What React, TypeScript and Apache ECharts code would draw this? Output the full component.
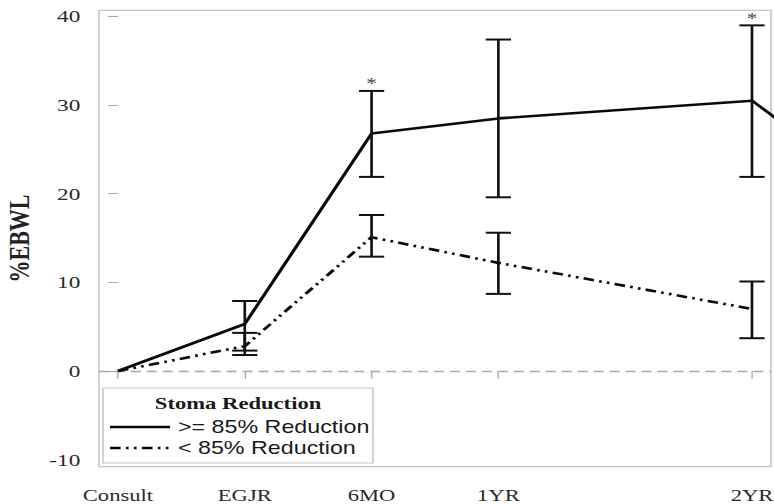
import { useEffect, useRef } from "react";
import * as echarts from "echarts";

const categories = ["Consult", "EGJR", "6MO", "1YR", "2YR"];
const categoryPositions = [0, 1, 2, 3, 5];
const yTicks = [-10, 0, 10, 20, 30, 40];

const legendTitle = "Stoma Reduction";
const seriesNames = [">= 85% Reduction", "< 85% Reduction"];

const highMeans = [0, 5.3, 26.8, 28.5, 30.5];
const highLower = [null, 2.3, 21.9, 19.6, 21.9];
const highUpper = [null, 7.9, 31.6, 37.4, 39.0];
const highSignificant = [0, 0, 1, 0, 1];
// the solid line continues to a later visit beyond the right edge (clipped)
const highTrailPosition = 6;
const highTrailValue = 20;

const lowMeans = [0, 2.8, 15.1, 12.2, 7.0];
const lowLower = [null, 1.8, 12.9, 8.7, 3.7];
const lowUpper = [null, 4.3, 17.6, 15.6, 10.1];

const STRETCH = 1.33;
const INNER_W = 582;
const H = 504;
const SERIF = "'Liberation Serif', 'Times New Roman', serif";
const SANS = "'Liberation Sans', Arial, sans-serif";
const DASH_DOT_DOT = [8, 4, 2, 4, 2, 4];

function errorData(lower: (number | null)[], upper: (number | null)[], sig?: number[]) {
  const out: number[][] = [];
  categoryPositions.forEach((p, i) => {
    const lo = lower[i];
    const hi = upper[i];
    if (lo == null || hi == null) return;
    out.push([p, lo, hi, sig ? sig[i] : 0]);
  });
  return out;
}

const renderError = (_params: any, api: any) => {
  const x = api.value(0);
  const lo = api.coord([x, api.value(1)]);
  const hi = api.coord([x, api.value(2)]);
  const sig = api.value(3);
  const w = 9.5;
  const style = { stroke: "#111", lineWidth: 2, fill: "none" };
  const children: any[] = [
    { type: "line", shape: { x1: hi[0], y1: hi[1], x2: lo[0], y2: lo[1] }, style },
    { type: "line", shape: { x1: hi[0] - w, y1: hi[1], x2: hi[0] + w, y2: hi[1] }, style },
    { type: "line", shape: { x1: lo[0] - w, y1: lo[1], x2: lo[0] + w, y2: lo[1] }, style },
  ];
  if (sig) {
    children.push({
      type: "text",
      x: hi[0],
      y: hi[1] - 7,
      style: {
        text: "*",
        fill: "#444",
        font: `16px ${SERIF}`,
        align: "center",
        verticalAlign: "middle",
      },
    });
  }
  return { type: "group", children };
};

export default function App() {
  const ref = useRef<HTMLDivElement>(null);

  useEffect(() => {
    if (!ref.current) return;
    const chart = echarts.init(ref.current, undefined, { renderer: "svg" });

    const highLine = categoryPositions.map((p, i) => [p, highMeans[i]]);
    highLine.push([highTrailPosition, highTrailValue]);
    const lowLine = categoryPositions.map((p, i) => [p, lowMeans[i]]);

    const legendLineX1 = 82.7;
    const legendLineX2 = 127.8;
    const legendTextX = 133.8;
    const legendRows = [427, 448];

    chart.setOption({
      animation: false,
      backgroundColor: "#fff",
      grid: {
        left: 74.4,
        right: 2.3,
        top: 10.3,
        bottom: 37.3,
        show: true,
        borderColor: "#c6c6c6",
        borderWidth: 1.2,
        backgroundColor: "transparent",
        containLabel: false,
        outerBoundsMode: "none",
      },
      xAxis: {
        type: "value",
        min: -0.15,
        max: 5.15,
        axisLine: { show: false },
        splitLine: { show: false },
        axisTick: {
          show: true,
          inside: false,
          length: 8,
          lineStyle: { color: "#a9a9a9", width: 1 },
          customValues: categoryPositions,
        },
        axisLabel: {
          customValues: categoryPositions,
          margin: 20,
          fontFamily: SERIF,
          fontSize: 17,
          color: "#2a2a2a",
          formatter: (v: number) => {
            const i = categoryPositions.indexOf(v);
            return i >= 0 ? categories[i] : "";
          },
        },
      },
      yAxis: {
        type: "value",
        min: -10.8,
        max: 40.7,
        name: "%EBWL",
        nameLocation: "middle",
        nameGap: 48.5,
        nameTextStyle: {
          fontFamily: SERIF,
          fontWeight: "bold",
          fontSize: 22,
          color: "#222",
        },
        axisLine: { show: false },
        splitLine: { show: false },
        axisTick: {
          show: true,
          length: 7.5,
          lineStyle: { color: "#a9a9a9", width: 1 },
          customValues: yTicks,
        },
        axisLabel: {
          customValues: yTicks,
          margin: 14,
          fontFamily: SERIF,
          fontSize: 17.5,
          color: "#2a2a2a",
        },
      },
      graphic: [
        {
          type: "rect",
          z: 3,
          shape: { x: 77.4, y: 388, width: 203, height: 75 },
          style: { fill: "#fff", stroke: "#c8c8c8", lineWidth: 1.2 },
        },
        {
          type: "text",
          z: 5,
          x: 179,
          y: 403,
          style: {
            text: legendTitle,
            font: `bold 17px ${SERIF}`,
            fill: "#1a1a1a",
            align: "center",
            verticalAlign: "middle",
          },
        },
        {
          type: "line",
          z: 5,
          shape: { x1: legendLineX1, y1: legendRows[0], x2: legendLineX2, y2: legendRows[0] },
          style: { stroke: "#0a0a0a", lineWidth: 2.6 },
        },
        {
          type: "text",
          z: 5,
          x: legendTextX,
          y: legendRows[0],
          style: {
            text: seriesNames[0],
            font: `17.5px ${SANS}`,
            fill: "#1a1a1a",
            align: "left",
            verticalAlign: "middle",
          },
        },
        {
          type: "line",
          z: 5,
          shape: { x1: legendLineX1, y1: legendRows[1], x2: legendLineX2, y2: legendRows[1] },
          style: { stroke: "#0a0a0a", lineWidth: 2.6, lineDash: DASH_DOT_DOT },
        },
        {
          type: "text",
          z: 5,
          x: legendTextX,
          y: legendRows[1],
          style: {
            text: seriesNames[1],
            font: `17.5px ${SANS}`,
            fill: "#1a1a1a",
            align: "left",
            verticalAlign: "middle",
          },
        },
      ],
      series: [
        {
          name: seriesNames[0],
          type: "line",
          data: highLine,
          symbol: "none",
          clip: true,
          lineStyle: { color: "#0a0a0a", width: 2.6, type: "solid" },
          itemStyle: { color: "#0a0a0a" },
          z: 4,
          markLine: {
            silent: true,
            symbol: ["none", "none"],
            label: { show: false },
            lineStyle: { color: "#a8a8a8", width: 1.3, type: [7.5, 4.5] },
            data: [{ yAxis: 0 }],
            z: 1,
          },
        },
        {
          name: seriesNames[1],
          type: "line",
          data: lowLine,
          symbol: "none",
          clip: true,
          lineStyle: { color: "#0a0a0a", width: 2.6, type: DASH_DOT_DOT },
          itemStyle: { color: "#0a0a0a" },
          z: 4,
        },
        {
          type: "custom",
          renderItem: renderError,
          data: errorData(highLower, highUpper, highSignificant),
          encode: { x: 0, y: [1, 2] },
          z: 5,
          silent: true,
        },
        {
          type: "custom",
          renderItem: renderError,
          data: errorData(lowLower, lowUpper),
          encode: { x: 0, y: [1, 2] },
          z: 5,
          silent: true,
        },
      ],
    });

    return () => chart.dispose();
  }, []);

  return (
    <div
      ref={ref}
      style={{
        position: "fixed",
        left: 0,
        top: 0,
        width: INNER_W,
        height: H,
        transform: `scaleX(${STRETCH})`,
        transformOrigin: "0 0",
        background: "#fff",
      }}
    />
  );
}
